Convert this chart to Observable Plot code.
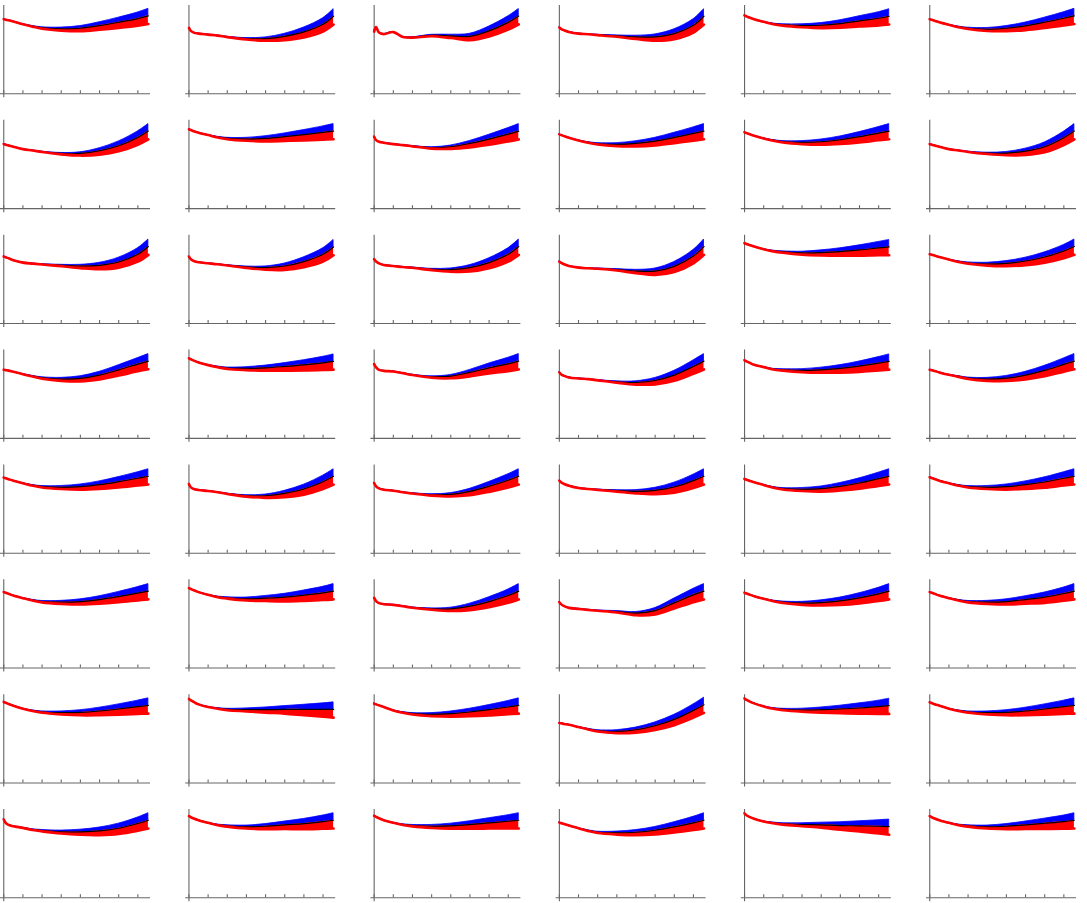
<!DOCTYPE html>
<html>
<head>
<meta charset="utf-8">
<script src="https://cdn.jsdelivr.net/npm/d3@7"></script>
<script src="https://cdn.jsdelivr.net/npm/@observablehq/plot@0.6"></script>
<style>
html, body { margin: 0; padding: 0; background: #fff; overflow: hidden; }
</style>
</head>
<body>
<div id="chart"></div>
<script>
// Shared x sample positions (data units) and axis tick values
const xs = [0, 0.1, 0.25, 0.5, 1, 1.5, 2, 3, 4, 5, 6, 7, 7.55];
const tickValues = [0, 1, 2, 3, 4, 5, 6, 7];
const xExtent = [-0.17, 7.66];
const yExtent = [-4, 88];

// Central (black) curve of each panel, read row by row
const r0c0 = [74.3, 73.8, 73.2, 72, 69.3, 67.3, 65.7, 64.7, 65.3, 68, 71.3, 75, 77.7];
const r0c1 = [65.7, 62.7, 61, 60, 59, 58, 56.7, 55, 55, 57.3, 61.7, 69.3, 77.3];
const r0c2 = [62, 66.5, 61, 59.5, 61.5, 56.7, 56.2, 58.3, 57.7, 57.3, 62.7, 71.2, 77.5];
const r0c3 = [66, 64.5, 63.3, 61.7, 60, 59.3, 58.7, 57.7, 56.7, 56.7, 60, 68.3, 77.3];
const r0c4 = [78, 77.2, 76, 74.3, 71.7, 69.7, 68.7, 68, 68.3, 70, 72.7, 75.3, 77.3];
const r0c5 = [74.3, 73.7, 72.8, 71.3, 68.7, 66.7, 65.3, 64.3, 65.3, 67.7, 71.3, 75.3, 77.7];

const r1c0 = [64.3, 63.8, 63, 61.7, 59.3, 58, 56.7, 55, 55, 57.7, 62.7, 71, 77.3];
const r1c1 = [79, 78.3, 77.2, 75.7, 73.3, 71.3, 70, 69.3, 70, 71.7, 73.7, 76, 77.3];
const r1c2 = [71.7, 68.3, 66.7, 65.7, 64.3, 63.3, 62.3, 60.7, 61.7, 65, 69.3, 74.3, 77.3];
const r1c3 = [74, 73.3, 72.3, 70.7, 68, 66, 64.7, 64, 65, 67.3, 71, 75, 77.3];
const r1c4 = [76, 75.3, 74.3, 72.7, 70, 68, 66.7, 66, 66.7, 68.7, 71.7, 75.3, 77.3];
const r1c5 = [64.3, 63.8, 63, 61.7, 59.3, 58, 56.7, 55.3, 55.3, 57.3, 61.7, 70.7, 77.3];

const r2c0 = [66.7, 66, 65, 63, 60.7, 59.7, 59, 58, 57.3, 58, 61.3, 69, 76.7];
const r2c1 = [66.7, 64, 62.3, 61, 60, 59, 58, 56.3, 55.7, 57.3, 61.7, 69, 76.3];
const r2c2 = [64, 61.7, 60, 58.3, 57.3, 56.3, 55.7, 54, 53.7, 55.7, 60.7, 69, 76.7];
const r2c3 = [61.7, 60.5, 59, 57.3, 55.7, 55, 54.7, 53.7, 52.3, 52.3, 57, 67.3, 76.7];
const r2c4 = [80, 79.3, 78.3, 76.7, 74, 72.3, 71.3, 70.3, 70.7, 71.7, 73.3, 75.3, 76.3];
const r2c5 = [69, 68.5, 67.7, 66.3, 63.7, 61.7, 60.3, 59.3, 60, 62.3, 66.3, 72.3, 76.7];

const r3c0 = [68.3, 68, 67.5, 66.3, 64, 62, 60.3, 59, 59.7, 63, 68.3, 74, 77];
const r3c1 = [79.7, 78.8, 77.5, 75.7, 73, 71.3, 70, 69.7, 70.3, 71.7, 73.3, 75.3, 76.7];
const r3c2 = [74, 70.7, 68.3, 67.3, 66.7, 65, 63.3, 61.3, 62, 65.7, 70.3, 74.3, 77];
const r3c3 = [65.7, 63.7, 62.3, 60.7, 59.7, 59, 58, 56.3, 55.7, 57.7, 63, 71.7, 77];
const r3c4 = [77.7, 76.8, 75.5, 73.3, 71, 69, 68.3, 67.7, 68.3, 69.7, 72, 75, 76.7];
const r3c5 = [68.3, 67.8, 67.2, 65.7, 63.3, 61.7, 60, 59, 60, 63, 67.7, 73.7, 77];

const r4c0 = [75.3, 74.7, 73.8, 72.3, 69.7, 67.7, 66.3, 65.7, 66.3, 68.3, 71.3, 74.7, 76.7];
const r4c1 = [69, 65.7, 64, 63, 62, 60.7, 59.3, 57.3, 57.3, 59.7, 64, 71.3, 76.7];
const r4c2 = [70, 66.7, 64.7, 63.3, 62.3, 60.7, 59.7, 58.3, 58.7, 61.7, 66.7, 72.7, 76.7];
const r4c3 = [72.3, 70.5, 69, 67.3, 65, 64, 63.3, 62.3, 61.7, 62.7, 66, 72.3, 76.7];
const r4c4 = [74, 73.3, 72.3, 70.7, 68, 65.7, 64.3, 63.7, 64.3, 66.7, 70, 74.3, 76.7];
const r4c5 = [75.7, 75, 74, 72.3, 69.7, 67.7, 66.3, 65.7, 66.3, 68.3, 71, 74.7, 76.7];

const r5c0 = [75.7, 75, 74, 72.3, 69.7, 67.7, 66.3, 65.7, 66.3, 68.3, 71.3, 74.7, 76.7];
const r5c1 = [79.7, 78.8, 77.5, 75.7, 73, 71, 70, 69, 69.7, 70.7, 72.7, 75, 76.7];
const r5c2 = [70, 66.7, 64.7, 63.7, 63, 61.7, 60.3, 59, 59, 61.7, 66.3, 72.3, 76.7];
const r5c3 = [65.7, 63.5, 61.7, 60, 59, 58, 57.3, 56.3, 54.7, 57.3, 65, 73, 76.7];
const r5c4 = [75, 74.3, 73.3, 71.7, 69, 67, 65.7, 64.7, 65.3, 67, 70, 74, 76.7];
const r5c5 = [75.7, 75, 74, 72.3, 69.7, 67.7, 66.3, 65.7, 66.3, 68.3, 70.7, 74.3, 76.7];

const r6c0 = [80.7, 79.9, 78.7, 77, 74, 72, 70.7, 70, 70.3, 71.7, 73.7, 76, 77.3];
const r6c1 = [83.7, 82.3, 80.7, 78.3, 75.7, 74.3, 73.3, 73, 73, 73.3, 73.3, 73.3, 73.3];
const r6c2 = [79, 78.3, 77.3, 75.7, 72.3, 70.3, 69, 68.3, 69, 70.7, 73, 75.7, 77.3];
const r6c3 = [59.7, 59.4, 58.8, 58, 55.7, 53.7, 52, 51.3, 53, 57, 63.3, 72.3, 78];
const r6c4 = [84, 82.7, 81.3, 79.3, 76.3, 74.3, 73.3, 72.7, 73, 73.7, 74.7, 76, 77];
const r6c5 = [80.3, 79.6, 78.5, 77, 74, 72, 70.7, 70, 70.3, 71.7, 73.7, 76, 77.3];

const r7c0 = [78, 74.7, 72.7, 71.3, 69.7, 68, 67, 65.7, 65.7, 66.7, 69.3, 74, 77.3];
const r7c1 = [81.3, 80.3, 79, 77.3, 74.7, 72.7, 71.7, 70.7, 71.3, 72.7, 74, 76, 77.3];
const r7c2 = [81.7, 80.7, 79.3, 77.3, 74.7, 73, 72, 71.3, 71.7, 73, 74.7, 76.3, 77.3];
const r7c3 = [75, 74.4, 73.5, 72, 69.3, 67, 65.3, 64.7, 65.3, 67.3, 70.7, 74.7, 77.3];
const r7c4 = [84, 82.3, 80.7, 78.7, 76, 74.7, 73.7, 73, 72.7, 72, 71.7, 71.3, 71];
const r7c5 = [81.3, 80.3, 79, 77.3, 74.7, 72.7, 71.7, 70.7, 71.3, 72.7, 74.3, 76, 77.3];

// Band half-widths (upper = blue, lower = red) for the last samples x = 1.5 … 7.55
const upperEarly = [0.3, 0.6, 1.3, 2.2, 3.3, 4.6, 6, 7];
const lowerEarly = [0.4, 0.8, 1.7, 2.9, 4.2, 5.7, 7.2, 8.2];
const upperLate  = [0, 0.1, 0.5, 1.2, 2.5, 4.3, 6, 7];
const lowerLate  = [0, 0.2, 0.9, 2.1, 3.9, 5.6, 7.3, 8.3];
// Which band profile each panel follows (E = early spread, L = late spread)
const bandKind = [
  "E","L","L","L","E","E",
  "L","E","L","E","E","L",
  "L","L","L","L","E","E",
  "E","E","L","L","E","E",
  "E","L","L","L","E","E",
  "E","E","L","L","E","E",
  "E","E","E","E","E","E",
  "E","E","E","E","E","E"
];

const panels = [
  r0c0, r0c1, r0c2, r0c3, r0c4, r0c5,
  r1c0, r1c1, r1c2, r1c3, r1c4, r1c5,
  r2c0, r2c1, r2c2, r2c3, r2c4, r2c5,
  r3c0, r3c1, r3c2, r3c3, r3c4, r3c5,
  r4c0, r4c1, r4c2, r4c3, r4c4, r4c5,
  r5c0, r5c1, r5c2, r5c3, r5c4, r5c5,
  r6c0, r6c1, r6c2, r6c3, r6c4, r6c5,
  r7c0, r7c1, r7c2, r7c3, r7c4, r7c5
];

const rows = [];
panels.forEach((mid, p) => {
  const late = bandKind[p] === "L";
  const up = late ? upperLate : upperEarly;
  const dn = late ? lowerLate : lowerEarly;
  const offset = xs.length - up.length;
  mid.forEach((m, i) => {
    const j = i - offset;
    const u = j >= 0 ? up[j] : 0;
    const d = j >= 0 ? dn[j] : 0;
    rows.push({panel: p, row: Math.floor(p / 6), col: p % 6, x: xs[i], mid: m, hi: m + u, lo: m - d});
  });
});

const curve = "catmull-rom";
const axisColor = "#666666";

const chart = Plot.plot({
  width: 1087,
  height: 903,
  marginLeft: 0,
  marginRight: 11,
  marginTop: 5,
  marginBottom: 1.7,
  facet: {data: rows, x: "col", y: "row", marginTop: 0, marginRight: 0, marginBottom: 0, marginLeft: 0},
  fx: {axis: null, paddingInner: 0.19006, paddingOuter: 0, round: false},
  fy: {axis: null, paddingInner: 0.1964, paddingOuter: 0, round: false},
  x: {domain: xExtent, axis: null},
  y: {domain: yExtent, axis: null},
  marks: [
    Plot.ruleY([0], {x1: xExtent[0], x2: xExtent[1], stroke: axisColor, strokeWidth: 1.1}),
    Plot.ruleX([0], {y1: yExtent[0], y2: yExtent[1], stroke: axisColor, strokeWidth: 1.1}),
    Plot.ruleX(tickValues, {y1: 0, y2: 3, stroke: axisColor, strokeWidth: 1.1}),
    Plot.areaY(rows, {x: "x", y1: "mid", y2: "hi", z: "panel", fill: "#0000ff", stroke: "#0000ff", strokeWidth: 0.8, curve}),
    Plot.areaY(rows, {x: "x", y1: "lo", y2: "mid", z: "panel", fill: "#ff0000", curve}),
    Plot.lineY(rows, {x: "x", y: "mid", z: "panel", stroke: "#000000", strokeWidth: 1.2, curve}),
    Plot.lineY(rows, {x: "x", y: "lo", z: "panel", stroke: "#ff0000", strokeWidth: 2.6, curve})
  ]
});

document.getElementById("chart").appendChild(chart);
</script>
</body>
</html>
